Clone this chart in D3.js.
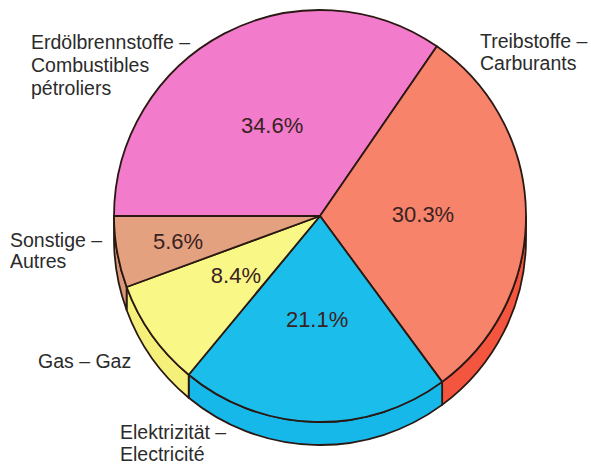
<!DOCTYPE html>
<html>
<head>
<meta charset="utf-8">
<script src="https://cdn.jsdelivr.net/npm/d3@7"></script>
<style>
  body { margin: 0; background: #fff; }
  text { font-family: "Liberation Sans", Arial, sans-serif; }
</style>
</head>
<body>
<div id="chart"></div>
<script>
// data
const categories = ["Erdölbrennstoffe", "Treibstoffe", "Elektrizität", "Gas", "Sonstige"];
const shares = [34.6, 30.3, 21.1, 8.4, 5.6];
const labelLines = [
    ["Erdölbrennstoffe –", "Combustibles", "pétroliers"],
    ["Treibstoffe –", "Carburants"],
    ["Elektrizität –", "Electricité"],
    ["Gas – Gaz"],
    ["Sonstige –", "Autres"]
];

const topColors = ["#f27bcb", "#f7836a", "#1bbdeb", "#f9f785", "#e3a180"];
const sideColors = ["#e66bbd", "#f4553e", "#16b8ea", "#f5f07a", "#d9987a"];

const width = 591, height = 465;
const cx = 320, cy = 216, r = 206, depth = 23;

// where the outside labels sit (x, first baseline, line step)
const labelPos = [
    {x: 31, y: 49, step: 23},
    {x: 480, y: 48, step: 22},
    {x: 120, y: 439, step: 22},
    {x: 38, y: 368, step: 22},
    {x: 10, y: 247, step: 21}
];

const svg = d3.select("#chart").append("svg")
    .attr("width", width)
    .attr("height", height);

const pie = d3.pie().sort(null)
    .startAngle(-Math.PI / 2)
    .endAngle(1.5 * Math.PI);
const slices = pie(shares).map((s, i) => Object.assign(s, {i: i}));

const arc = d3.arc().innerRadius(0).outerRadius(r);

const g = svg.append("g").attr("transform", `translate(${cx},${cy})`);

// side wall: only the front half (pi/2 .. 3pi/2) shows
function sidePath(s) {
    let a0 = Math.max(s.startAngle, Math.PI / 2);
    let a1 = Math.min(s.endAngle, 1.5 * Math.PI);
    if (a1 <= a0) return null;
    const p = d3.path();
    const t0 = a0 - Math.PI / 2, t1 = a1 - Math.PI / 2;
    p.moveTo(r * Math.cos(t0), r * Math.sin(t0));
    p.arc(0, 0, r, t0, t1, false);
    p.lineTo(r * Math.cos(t1), r * Math.sin(t1) + depth);
    p.arc(0, depth, r, t1, t0, true);
    p.closePath();
    return p.toString();
}

g.append("g").attr("class", "sides")
    .selectAll("path")
    .data(slices.filter(s => sidePath(s)))
    .join("path")
    .attr("d", sidePath)
    .attr("fill", d => sideColors[d.i])
    .attr("stroke", "#2a1812")
    .attr("stroke-width", 1.8)
    .attr("stroke-linejoin", "round");

g.append("g").attr("class", "tops")
    .selectAll("path")
    .data(slices)
    .join("path")
    .attr("d", arc)
    .attr("fill", d => topColors[d.i])
    .attr("stroke", "#2a1812")
    .attr("stroke-width", 1.8)
    .attr("stroke-linejoin", "round");

// percentages inside the slices
g.append("g").attr("class", "values")
    .selectAll("text")
    .data(slices)
    .join("text")
    .attr("transform", d => {
        const lr = d.value < 7 ? r * 0.7 : r * 0.5;
        const c = d3.arc().innerRadius(lr).outerRadius(lr).centroid(d);
        return `translate(${c[0]},${c[1]})`;
    })
    .attr("text-anchor", "middle")
    .attr("dy", "0.36em")
    .attr("font-size", 22)
    .attr("fill", "#3a2222")
    .text(d => d.value.toFixed(1) + "%");

// category labels
const labels = svg.append("g").attr("class", "labels")
    .selectAll("text")
    .data(categories)
    .join("text")
    .attr("font-size", 19.5)
    .attr("fill", "#2b2b2b");

labels.each(function(d, i) {
    const pos = labelPos[i];
    d3.select(this).selectAll("tspan")
        .data(labelLines[i])
        .join("tspan")
        .attr("x", pos.x)
        .attr("y", (t, j) => pos.y + j * pos.step)
        .text(t => t);
});
</script>
</body>
</html>
